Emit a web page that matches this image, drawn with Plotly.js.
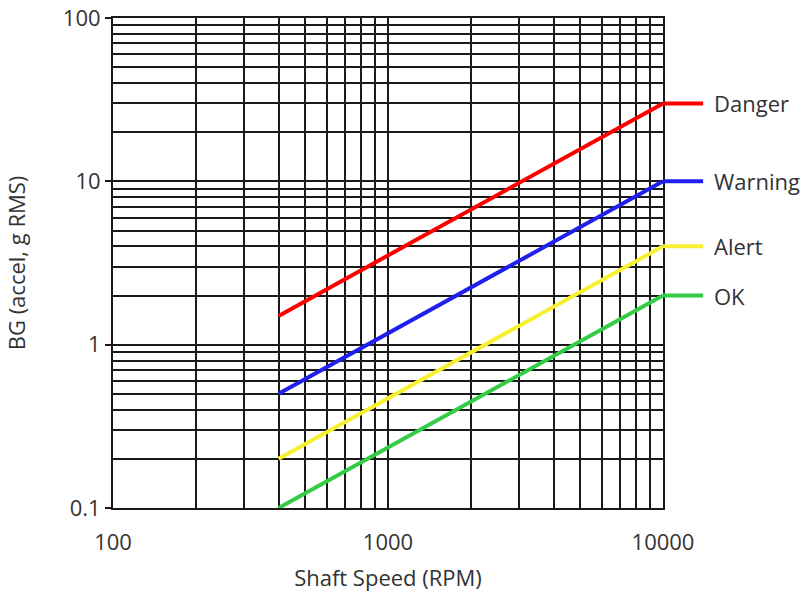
<!DOCTYPE html>
<html>
<head>
<meta charset="utf-8">
<script src="https://cdn.plot.ly/plotly-3.0.1.min.js"></script>
<style>html,body{margin:0;padding:0;background:#fff;}#chart{width:810px;height:593px;}</style>
</head>
<body>
<div id="chart"></div>
<script>
// Data
const speeds = [400, 10000];           // Shaft speed (RPM)
const danger = [1.5, 30];
const warning = [0.5, 10];
const alert_ = [0.2, 4];
const ok = [0.1, 2];
const seriesNames = ['Danger', 'Warning', 'Alert', 'OK'];
const seriesValues = [danger, warning, alert_, ok];
const seriesColors = ['#ff0000', '#1f1fee', '#f8f030', '#33cc44'];

// Grid / tick positions
const xGrid = [100,200,300,400,500,600,700,800,900,1000,2000,3000,4000,5000,6000,7000,8000,9000,10000];
const yGrid = [0.1,0.2,0.3,0.4,0.5,0.6,0.7,0.8,0.9,1,2,3,4,5,6,7,8,9,10,20,30,40,50,60,70,80,90,100];
const xLabels = {100:'100', 1000:'1000', 10000:'10000'};
const yLabels = {0.1:'0.1', 1:'1', 10:'10', 100:'100'};

const font = {family: 'Open Sans, sans-serif', size: 22, color: '#333'};
const gridColor = '#1a1a1a';

const traces = seriesNames.map((n, i) => ({
  type: 'scatter', mode: 'lines', name: n,
  x: speeds, y: seriesValues[i],
  line: {color: seriesColors[i], width: 4},
  hoverinfo: 'skip'
}));

const shapes = [];
const annotations = [];
seriesNames.forEach((n, i) => {
  const level = seriesValues[i][seriesValues[i].length - 1];
  shapes.push({type: 'line', xref: 'paper', yref: 'y', x0: 1, x1: 1.073, y0: level, y1: level,
    line: {color: seriesColors[i], width: 4}});
  annotations.push({xref: 'paper', yref: 'y', x: 1.073, y: Math.log10(level), text: n, showarrow: false,
    xanchor: 'left', yanchor: 'middle', xshift: 9, font: font});
});

const layout = {
  width: 810, height: 593,
  margin: {l: 113, r: 147, t: 18, b: 85},
  paper_bgcolor: '#fff', plot_bgcolor: '#fff',
  showlegend: false,
  font: font,
  xaxis: {
    type: 'log', range: [2, 4],
    tickmode: 'array', tickvals: xGrid, ticktext: xGrid.map(v => xLabels[v] || ''),
    ticks: '', showgrid: true, gridcolor: gridColor, gridwidth: 2,
    showline: true, mirror: true, linecolor: gridColor, linewidth: 2,
    zeroline: false, tickfont: font, ticklabelstandoff: 14,
    title: {text: 'Shaft Speed (RPM)', font: font, standoff: 15}
  },
  yaxis: {
    type: 'log', range: [-1, 2],
    tickmode: 'array', tickvals: yGrid, ticktext: yGrid.map(v => yLabels[v] || ''),
    ticks: '', showgrid: true, gridcolor: gridColor, gridwidth: 2,
    showline: true, mirror: true, linecolor: gridColor, linewidth: 2,
    zeroline: false, tickfont: font, ticklabelstandoff: 6,
    minor: {tickmode: 'array', tickvals: [0.1, 1, 10, 100], ticks: 'outside', ticklen: 6, tickwidth: 2, tickcolor: gridColor, showgrid: false},
    title: {text: 'BG (accel, g RMS)', font: font, standoff: 31}
  },
  shapes: shapes,
  annotations: annotations
};

Plotly.newPlot('chart', traces, layout, {displayModeBar: false, staticPlot: true});
</script>
</body>
</html>
